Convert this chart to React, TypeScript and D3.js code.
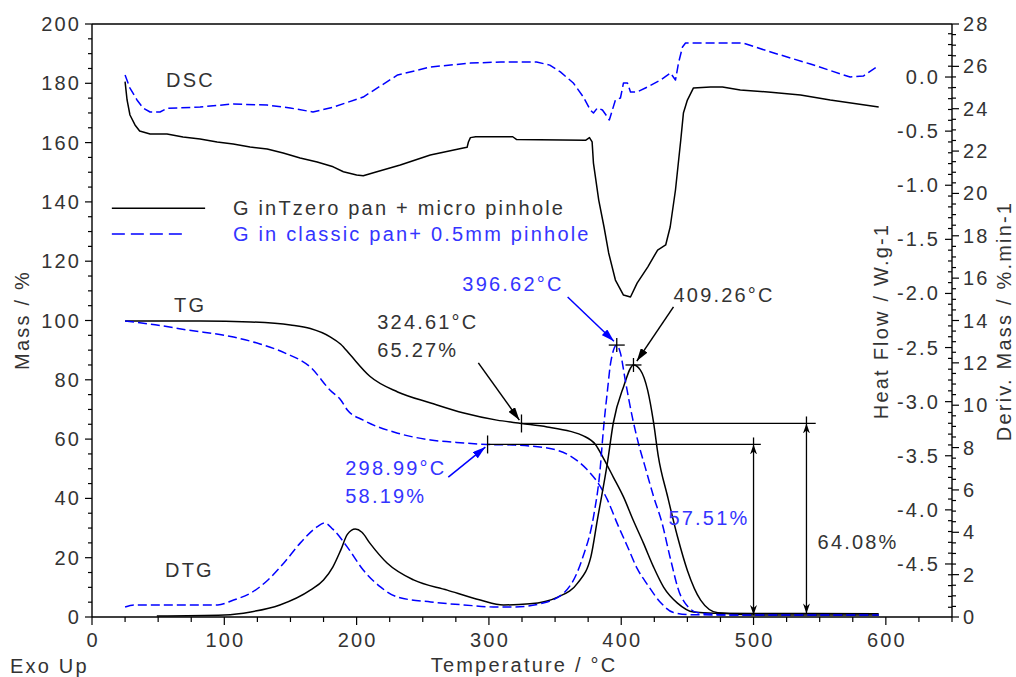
import React from "react";
import * as d3 from "d3";

// ---------- DATA ----------
// DSC, heat flow (W/g) vs temperature (°C)
const dscBlackT = [25, 26.5, 28.7, 32.5, 36, 43.9, 56.7, 68.8, 81.7, 94.6, 106.7, 119.5, 132.4, 144.5, 157.3, 170.2, 182.3, 190, 200, 205, 214, 233, 255.7, 280.6, 283.5, 284.5, 286, 290, 318, 321, 373, 376, 378, 379, 383, 387, 390.5, 395.6, 401.7, 407, 412, 420, 427.5, 433.6, 437, 441, 445, 447, 450, 454.6, 467.5, 476.5, 490, 513, 535.5, 558, 594.6];
const dscBlackHF = [-0.043, -0.212, -0.351, -0.443, -0.499, -0.527, -0.527, -0.554, -0.573, -0.601, -0.619, -0.647, -0.665, -0.702, -0.748, -0.785, -0.83, -0.875, -0.906, -0.912, -0.88, -0.813, -0.721, -0.656, -0.65, -0.6, -0.56, -0.552, -0.552, -0.578, -0.585, -0.56, -0.6, -0.795, -1.137, -1.386, -1.626, -1.876, -2.015, -2.033, -1.904, -1.756, -1.599, -1.552, -1.386, -1.044, -0.582, -0.333, -0.213, -0.101, -0.092, -0.092, -0.12, -0.14, -0.166, -0.213, -0.277];

const dscBlueT = [25, 28.7, 34, 38.6, 43.9, 51.4, 56.7, 81.7, 106.7, 132.4, 149.8, 167, 182, 205, 218, 231, 256, 286, 309, 336, 346, 354, 363.8, 371.4, 376.7, 379, 382, 385.8, 389.6, 391, 393.3, 395.6, 399.4, 401.7, 404.7, 407, 412, 419.8, 429.7, 437.2, 441, 443.3, 446.3, 448.6, 492, 513, 543, 573, 583, 594.6];
const dscBlueHF = [0.019, -0.102, -0.212, -0.286, -0.323, -0.323, -0.29, -0.277, -0.249, -0.259, -0.286, -0.323, -0.28, -0.185, -0.083, 0.019, 0.093, 0.129, 0.139, 0.139, 0.11, 0.047, -0.055, -0.185, -0.305, -0.333, -0.286, -0.305, -0.37, -0.397, -0.305, -0.213, -0.194, -0.055, -0.055, -0.138, -0.138, -0.092, -0.028, 0.037, -0.028, 0.13, 0.277, 0.314, 0.314, 0.231, 0.12, 0.0, 0.009, 0.106];

// TG, mass (%) vs temperature
const tgBlackT = [25, 82, 120, 150, 165, 180, 188, 195, 210, 231, 256, 281, 306, 324.61, 344, 361.6, 371, 380.5, 386.5, 394, 401.7, 409, 416.7, 424.4, 432, 442.5, 454.6, 470, 500, 540, 594.6];
const tgBlackM = [99.8, 99.8, 99.5, 98.5, 97.3, 94.5, 92, 88.5, 81.2, 75.9, 72.2, 68.8, 66.4, 65.27, 64.1, 62.6, 61.2, 58.2, 53.6, 47.2, 40.5, 32.7, 25, 16.9, 10.1, 4.7, 1.7, 1.3, 1.22, 1.19, 1.1];

const tgBlueT = [25, 43.9, 72, 107, 127, 146, 165, 180, 188, 193, 205, 231, 256, 281, 298.99, 318, 344, 361.6, 374, 382, 389.6, 397, 404.7, 412, 420, 429.7, 439.5, 452, 470, 594.6];
const tgBlueM = [99.8, 98.8, 96.8, 94.4, 92.1, 89, 84.3, 76.5, 73.2, 69.8, 66.4, 62, 59.7, 58.7, 58.19, 58.0, 57, 54.3, 49.8, 45.5, 39.5, 31.5, 23.8, 16.4, 10.8, 4.9, 1.5, 0.8, 0.7, 0.65];

// DTG, deriv. mass (%/min) vs temperature
const dtgBlackT = [49, 100, 120, 142, 165, 175, 182, 188, 193, 199, 204, 210, 223, 243, 268.5, 293.5, 311, 331, 352, 367, 377, 382, 389.6, 394, 401.7, 409.26, 414.5, 420, 424.4, 428, 435, 442.5, 450, 460, 473, 500, 594.6];
const dtgBlackV = [0.05, 0.1, 0.24, 0.57, 1.27, 1.75, 2.36, 3.16, 3.9, 4.15, 4.0, 3.49, 2.55, 1.75, 1.27, 0.8, 0.57, 0.62, 0.94, 1.6, 2.83, 4.6, 7.3, 9.16, 10.86, 11.9, 11.66, 10.7, 9.2, 7.6, 5.7, 3.8, 2.2, 0.8, 0.2, 0.1, 0.1];

const dtgBlueT = [25, 32, 95, 107, 120, 133, 145, 157.5, 170, 176, 182, 193, 205, 218, 231, 256, 281, 306, 318, 344, 361.6, 371, 379, 384, 386.5, 389.6, 392, 396.62, 399.4, 403, 408.5, 413, 418, 424.4, 431, 437, 445, 458, 480, 594.6];
const dtgBlueV = [0.47, 0.57, 0.57, 0.8, 1.13, 1.75, 2.55, 3.5, 4.25, 4.44, 4.15, 3.3, 2.22, 1.42, 0.94, 0.71, 0.57, 0.47, 0.47, 0.71, 1.5, 2.83, 4.72, 6.94, 8.83, 10.7, 12.0, 12.84, 12.46, 11.2, 9.4, 8.2, 7.1, 5.7, 4.4, 2.8, 1.0, 0.2, 0.1, 0.1];

// Axis ticks
const tempMajor = [0, 100, 200, 300, 400, 500, 600];
const massMajor = [0, 20, 40, 60, 80, 100, 120, 140, 160, 180, 200];
const hfMajor = [0, -0.5, -1, -1.5, -2, -2.5, -3, -3.5, -4, -4.5];
const dtgMajor = [0, 2, 4, 6, 8, 10, 12, 14, 16, 18, 20, 22, 24, 26, 28];

// Annotations (temperature, value)
const onsetBlack = { t: 324.61, m: 65.27, loss: 64.08, residual: 1.19, lineEnd: 547, arrowT: 540 };
const onsetBlue = { t: 298.99, m: 58.19, loss: 57.51, residual: 0.68, lineEnd: 505.5, arrowT: 500 };
const peakBlue = { t: 396.62, v: 12.84 };
const peakBlack = { t: 409.26, v: 11.9 };

const FONT = "'Liberation Sans', Arial, Helvetica, sans-serif";
const GREY = "#333333";
const BLUE = "#0000ff";
const BLUE_TEXT = "#3434ff";
const FS = 20;
const LS = 2.2;

export default function App() {
  const W = 1016, H = 677;
  const L = 92, R = 952, T = 24, B = 617;
  const x = d3.scaleLinear().domain([0, 650]).range([L, R]);
  const yM = d3.scaleLinear().domain([0, 200]).range([B, T]);
  const yD = d3.scaleLinear().domain([0, 28]).range([B, T]);
  const yH = d3.scaleLinear().domain([-4.99, 0.49]).range([B, T]);

  const mk = (ts: number[], vs: number[], ys: d3.ScaleLinear<number, number>, curve: d3.CurveFactory) =>
    d3.line<number>().x((_, i) => x(ts[i])).y((v) => ys(v)).curve(curve)(vs) || "";

  const dash = "9,4";
  const curves = [
    { d: mk(dscBlackT, dscBlackHF, yH, d3.curveLinear), c: "#000", dash: undefined },
    { d: mk(dscBlueT, dscBlueHF, yH, d3.curveLinear), c: BLUE, dash },
    { d: mk(tgBlackT, tgBlackM, yM, d3.curveMonotoneX), c: "#000", dash: undefined },
    { d: mk(tgBlueT, tgBlueM, yM, d3.curveMonotoneX), c: BLUE, dash },
    { d: mk(dtgBlackT, dtgBlackV, yD, d3.curveMonotoneX), c: "#000", dash: undefined },
    { d: mk(dtgBlueT, dtgBlueV, yD, d3.curveMonotoneX), c: BLUE, dash },
  ];

  const massMinor = d3.range(0, 41).map((i) => i * 5);
  const tempMinor = d3.range(0, 27).map((i) => i * 25);
  const hfMinor = d3.range(-49, 5).map((i) => i / 10);
  const dtgMinor = d3.range(0, 57).map((i) => i * 0.5);

  const txt = (s: string, px: number, py: number, color = GREY, anchor: "start" | "middle" | "end" = "start", key?: string) => (
    <text key={key ?? s} x={px} y={py} dy="0.35em" fill={color} textAnchor={anchor} fontFamily={FONT} fontSize={FS} letterSpacing={LS}>
      {s}
    </text>
  );

  const arrows = [
    { a: [359.5, 107.9, 394.5, 93.0], c: BLUE, id: "ahBlue" },
    { a: [439.5, 104.6, 411.8, 86.3], c: "#000", id: "ahBlack" },
    { a: [292, 85.7, 323, 66.4], c: "#000", id: "ahBlack" },
    { a: [269.3, 47.2, 297.3, 57.3], c: BLUE, id: "ahBlue" },
  ];

  const cross = (cx: number, cy: number, key: string) => (
    <g key={key} stroke="#000" strokeWidth={1.3}>
      <line x1={cx - 8} x2={cx + 8} y1={cy} y2={cy} />
      <line x1={cx} x2={cx} y1={cy - 7} y2={cy + 7} />
    </g>
  );

  return (
    <svg width={W} height={H} style={{ position: "absolute", left: 0, top: 0, background: "#fff" }}>
      <defs>
        <marker id="ahBlue" markerUnits="userSpaceOnUse" viewBox="0 0 13 8" markerWidth={13} markerHeight={8} refX={13} refY={4} orient="auto">
          <path d="M0,0 L13,4 L0,8 Z" fill={BLUE} />
        </marker>
        <marker id="ahBlack" markerUnits="userSpaceOnUse" viewBox="0 0 13 8" markerWidth={13} markerHeight={8} refX={13} refY={4} orient="auto">
          <path d="M0,0 L13,4 L0,8 Z" fill="#000" />
        </marker>
        <marker id="ahDim" markerUnits="userSpaceOnUse" viewBox="0 0 10 7" markerWidth={10} markerHeight={7} refX={10} refY={3.5} orient="auto-start-reverse">
          <path d="M0,0 L10,3.5 L0,7 L3,3.5 Z" fill="#000" />
        </marker>
      </defs>
      <rect x={0} y={0} width={W} height={H} fill="#fff" />

      {/* frame */}
      <g stroke="#000" strokeWidth={1.4} fill="none">
        <line x1={L} x2={R} y1={T} y2={T} />
        <line x1={L} x2={L} y1={T} y2={B} />
        <line x1={L} x2={R} y1={B} y2={B} />
        <line x1={R} x2={R} y1={T} y2={B} />
      </g>

      {/* left mass axis */}
      <g stroke="#000" strokeWidth={1.2}>
        {massMinor.map((v) => (
          <line key={"mm" + v} x1={L - (v % 20 === 0 ? 7 : 4)} x2={L} y1={yM(v)} y2={yM(v)} />
        ))}
      </g>
      {massMajor.map((v) => txt(String(v), L - 13 + LS, yM(v), GREY, "end", "ml" + v))}

      {/* bottom temperature axis */}
      <g stroke="#000" strokeWidth={1.2}>
        {tempMinor.map((v) => (
          <line key={"tm" + v} x1={x(v)} x2={x(v)} y1={B} y2={B + (v % 100 === 0 ? 8 : 5)} />
        ))}
      </g>
      {tempMajor.map((v) => txt(String(v), x(v) + LS / 2, 640, GREY, "middle", "tl" + v))}

      {/* right axes */}
      <g stroke="#000" strokeWidth={1.2}>
        {hfMinor.map((v) => {
          const major = Math.abs(v * 2 - Math.round(v * 2)) < 1e-6;
          return <line key={"hm" + v} x1={R - (major ? 7 : 4)} x2={R} y1={yH(v)} y2={yH(v)} />;
        })}
        {dtgMinor.map((v) => (
          <line key={"dm" + v} x1={R} x2={R + (v % 2 === 0 ? 7 : 4)} y1={yD(v)} y2={yD(v)} />
        ))}
      </g>
      {hfMajor.map((v) => txt(v.toFixed(1), R - 14 + LS, yH(v), GREY, "end", "hl" + v))}
      {dtgMajor.map((v) => txt(String(v), R + 11, yD(v), GREY, "start", "dl" + v))}

      {/* axis titles */}
      {txt("Exo Up", 10, 666, GREY, "start", "exo")}
      {txt("Temperature / °C", 524, 665, GREY, "middle", "xt")}
      <g transform="translate(22,320) rotate(-90)">{txt("Mass / %", 0, 0, GREY, "middle", "mt")}</g>
      <g transform="translate(881,321) rotate(-90)">{txt("Heat Flow / W.g-1", 0, 0, GREY, "middle", "ht")}</g>
      <g transform="translate(1004,321) rotate(-90)">{txt("Deriv. Mass / %.min-1", 0, 0, GREY, "middle", "dt")}</g>

      {/* curves */}
      <g fill="none" strokeWidth={1.5} strokeLinejoin="round">
        {curves.map((c, i) => (
          <path key={"c" + i} d={c.d} stroke={c.c} strokeDasharray={c.dash} />
        ))}
      </g>

      {/* curve labels */}
      {txt("DSC", x(56), yM(181.1), GREY, "start", "dsc")}
      {txt("TG", x(62), yM(105.2), GREY, "start", "tg")}
      {txt("DTG", x(55.2), yM(15.9), GREY, "start", "dtg")}

      {/* legend */}
      <line x1={x(15)} x2={x(85.5)} y1={yM(137.9)} y2={yM(137.9)} stroke="#000" strokeWidth={1.5} />
      <line x1={x(15)} x2={x(70.4)} y1={yM(129.2)} y2={yM(129.2)} stroke={BLUE} strokeWidth={1.5} strokeDasharray="13,6" />
      {txt("G inTzero pan + micro pinhole", x(106.5), yM(137.9), GREY, "start", "lg1")}
      {txt("G in classic pan+ 0.5mm pinhole", x(106.5), yM(129.2), BLUE_TEXT, "start", "lg2")}

      {/* onset horizontal lines & markers */}
      <g stroke="#000" strokeWidth={1.3}>
        {[onsetBlack, onsetBlue].map((o, i) => (
          <g key={"on" + i}>
            <line x1={x(o.t)} x2={x(o.lineEnd)} y1={yM(o.m)} y2={yM(o.m)} />
            <line x1={x(o.t)} x2={x(o.t)} y1={yM(o.m) - 9} y2={yM(o.m) + 9} />
            <line x1={x(o.arrowT)} x2={x(o.arrowT)} y1={yM(o.m) - 7} y2={yM(o.m)} />
            <line x1={x(o.arrowT)} x2={x(o.arrowT)} y1={yM(o.m)} y2={yM(o.residual)} markerStart="url(#ahDim)" markerEnd="url(#ahDim)" />
          </g>
        ))}
      </g>

      {/* peak crosses */}
      {cross(x(peakBlue.t), yD(peakBlue.v), "pb")}
      {cross(x(peakBlack.t), yD(peakBlack.v), "pk")}

      {/* arrows */}
      {arrows.map((a, i) => (
        <line key={"ar" + i} x1={x(a.a[0])} y1={yM(a.a[1])} x2={x(a.a[2])} y2={yM(a.a[3])} stroke={a.c} strokeWidth={1.5} markerEnd={`url(#${a.id})`} />
      ))}

      {/* annotation texts */}
      {txt(`${onsetBlack.t.toFixed(2)}°C`, x(215.6), yM(99.5), GREY, "start", "a1")}
      {txt(`${onsetBlack.m.toFixed(2)}%`, x(215.6), yM(90.05), GREY, "start", "a2")}
      {txt(`${peakBlue.t.toFixed(2)}°C`, x(279.9), yM(112.3), BLUE_TEXT, "start", "a3")}
      {txt(`${peakBlack.t.toFixed(2)}°C`, x(439.5), yM(108.6), GREY, "start", "a4")}
      {txt(`${onsetBlue.t.toFixed(2)}°C`, x(191.4), yM(50.3), BLUE_TEXT, "start", "a5")}
      {txt(`${onsetBlue.m.toFixed(2)}%`, x(191.4), yM(40.8), BLUE_TEXT, "start", "a6")}
      {txt(`${onsetBlue.loss.toFixed(2)}%`, x(435.7), yM(33.4), BLUE_TEXT, "start", "a7")}
      {txt(`${onsetBlack.loss.toFixed(2)}%`, x(548.4), yM(25.3), GREY, "start", "a8")}
    </svg>
  );
}
